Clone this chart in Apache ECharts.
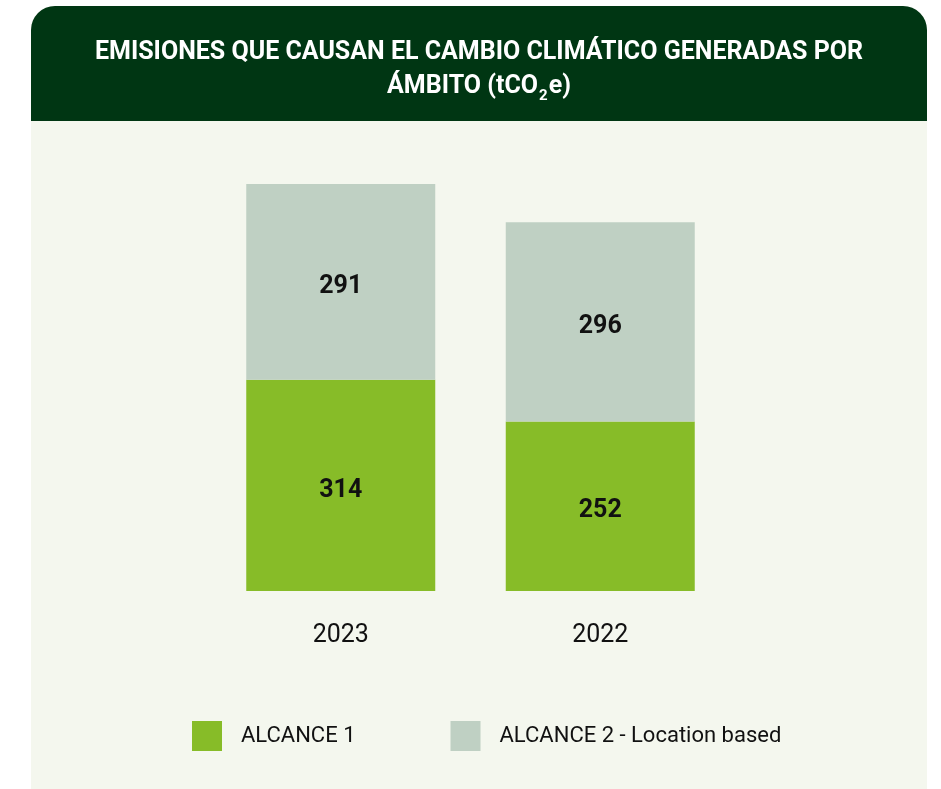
<!DOCTYPE html>
<html>
<head>
<meta charset="utf-8">
<script src="https://cdn.jsdelivr.net/npm/echarts@6/dist/echarts.min.js"></script>
<style>
  html, body { margin: 0; padding: 0; background: #ffffff; }
  #card {
    position: absolute; left: 31px; top: 6px; width: 896px; height: 800px;
    background: #f4f7ee; border-radius: 24px 24px 0 0; overflow: hidden;
  }
  #band { height: 115px; background: #003613; }
  #chart { position: absolute; left: 31px; top: 0; width: 896px; height: 789px; }
</style>
</head>
<body>
<div id="card"><div id="band"></div></div>
<div id="chart"></div>
<script>
  const years = ['2023', '2022'];
  const alcance1 = [314, 252];
  const alcance2 = [291, 296];
  const seriesNames = ['ALCANCE 1', 'ALCANCE 2 - Location based'];

  const FONT = 'Roboto';
  const chart = echarts.init(document.getElementById('chart'));

  const barLabel = {
    show: true,
    position: 'inside',
    offset: [0, 5],
    color: '#111',
    fontFamily: FONT,
    fontWeight: 'bold',
    fontSize: 25
  };

  chart.setOption({
    backgroundColor: 'transparent',
    animation: false,
    title: {
      text: 'EMISIONES QUE CAUSAN EL CAMBIO CLIMÁTICO GENERADAS POR\nÁMBITO (tCO{sub|2}e)',
      left: 'center',
      top: 36,
      padding: 0,
      textStyle: {
        color: '#ffffff',
        fontFamily: FONT,
        fontWeight: 'bold',
        fontSize: 25,
        lineHeight: 34,
        align: 'center',
        rich: {
          sub: {
            color: '#ffffff',
            fontFamily: FONT,
            fontWeight: 'bold',
            fontSize: 15,
            verticalAlign: 'bottom',
            lineHeight: 34,
            padding: [12, 1, 0, 1]
          }
        }
      }
    },
    legend: {
      left: 156,
      top: 716,
      itemWidth: 30,
      itemHeight: 30,
      itemGap: 95,
      icon: 'rect',
      textStyle: {
        color: '#111',
        fontFamily: FONT,
        fontSize: 22,
        padding: [0, 0, 0, 14]
      },
      data: seriesNames
    },
    grid: { left: 180, right: 197, top: 120, bottom: 198 },
    xAxis: {
      type: 'category',
      data: years,
      axisLine: { show: false },
      axisTick: { show: false },
      axisLabel: {
        color: '#111',
        fontFamily: FONT,
        fontSize: 25,
        margin: 32
      }
    },
    yAxis: {
      type: 'value',
      min: 0,
      max: 700,
      show: false,
      splitLine: { show: false }
    },
    series: [
      {
        name: seriesNames[0],
        type: 'bar',
        stack: 'total',
        barWidth: 189,
        data: alcance1,
        itemStyle: { color: '#87bc28' },
        label: barLabel
      },
      {
        name: seriesNames[1],
        type: 'bar',
        stack: 'total',
        barWidth: 189,
        data: alcance2,
        itemStyle: { color: '#bfd0c3' },
        label: barLabel
      }
    ]
  });
</script>
</body>
</html>
